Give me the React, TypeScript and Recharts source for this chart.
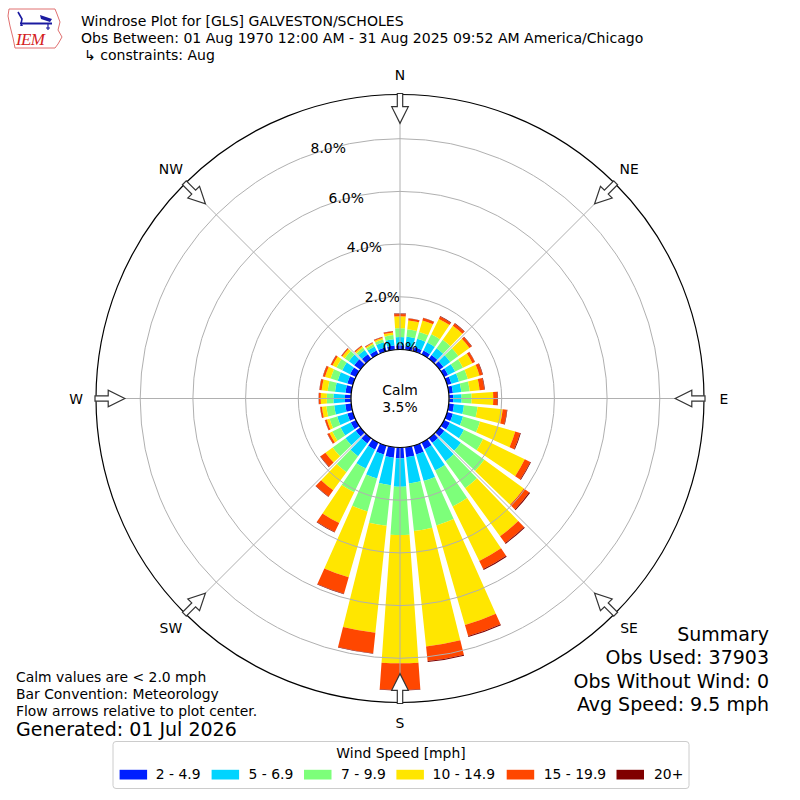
import React from 'react';
import { RadialBarChart, RadialBar, PolarAngleAxis, PolarRadiusAxis, PolarGrid } from 'recharts';

// ---------- data ----------
const directions = ['0', '10', '20', '30', '40', '50', '60', '70', '80', '90', '100', '110', '120', '130', '140', '150', '160', '170',
  '180', '190', '200', '210', '220', '230', '240', '250', '260', '270', '280', '290', '300', '310', '320', '330', '340', '350'];

const speed2to5 = [0.16, 0.14, 0.16, 0.17, 0.18, 0.18, 0.17, 0.17, 0.16, 0.16, 0.20, 0.23, 0.25, 0.22, 0.22, 0.28, 0.35, 0.38,
  0.41, 0.40, 0.35, 0.30, 0.25, 0.22, 0.22, 0.22, 0.23, 0.23, 0.22, 0.22, 0.25, 0.29, 0.22, 0.17, 0.16, 0.16];
const speed5to7 = [0.31, 0.36, 0.34, 0.33, 0.32, 0.32, 0.30, 0.30, 0.32, 0.32, 0.38, 0.40, 0.59, 0.78, 0.86, 0.90, 1.05, 1.00,
  1.08, 1.05, 0.95, 0.80, 0.60, 0.48, 0.43, 0.40, 0.42, 0.44, 0.40, 0.38, 0.33, 0.25, 0.20, 0.17, 0.20, 0.24];
const speed7to10 = [0.34, 0.28, 0.27, 0.35, 0.40, 0.38, 0.33, 0.35, 0.32, 0.38, 0.52, 0.67, 0.81, 1.10, 1.27, 1.52, 1.75, 1.82,
  1.83, 1.55, 1.30, 1.00, 0.75, 0.60, 0.35, 0.30, 0.30, 0.25, 0.28, 0.28, 0.24, 0.19, 0.10, 0.09, 0.11, 0.16];
const speed10to15 = [0.45, 0.34, 0.45, 0.65, 0.65, 0.52, 0.40, 0.46, 0.38, 0.82, 0.96, 1.39, 1.76, 1.85, 2.25, 2.30, 3.93, 4.40,
  4.87, 4.08, 2.60, 1.30, 0.85, 0.34, 0.12, 0.11, 0.17, 0.23, 0.23, 0.22, 0.17, 0.12, 0.06, 0.05, 0.06, 0.10];
const speed15to20 = [0.09, 0.07, 0.10, 0.10, 0.11, 0.10, 0.10, 0.12, 0.18, 0.16, 0.16, 0.19, 0.23, 0.25, 0.32, 0.34, 0.44, 0.56,
  1.01, 0.78, 0.65, 0.38, 0.29, 0.23, 0.08, 0.07, 0.06, 0.07, 0.08, 0.08, 0.07, 0.04, 0.04, 0.03, 0.04, 0.05];
const speed20plus = [0.02, 0.01, 0.01, 0.02, 0.02, 0.02, 0.01, 0.02, 0.02, 0.02, 0.02, 0.03, 0.03, 0.04, 0.04, 0.04, 0.04, 0.04,
  0.02, 0.02, 0.02, 0.02, 0.02, 0.02, 0.01, 0.01, 0.01, 0.01, 0.01, 0.01, 0.01, 0.01, 0.01, 0.01, 0.01, 0.01];

const binKeys = ['s1', 's2', 's3', 's4', 's5', 's6'];
const binLabels = ['2 - 4.9', '5 - 6.9', '7 - 9.9', '10 - 14.9', '15 - 19.9', '20+'];
const binColors = ['#0020ff', '#00d4ff', '#7dff7a', '#ffe600', '#ff4700', '#800000'];

const radiusTicks = [0, 2, 4, 6, 8];
const radiusDomain = [0, 10];
const compassLabels = ['N', 'NE', 'E', 'SE', 'S', 'SW', 'W', 'NW'];
const compassAngles = [0, 45, 90, 135, 180, 225, 270, 315];
const calmPercent = '3.5%';

const titleLines = [
  'Windrose Plot for [GLS] GALVESTON/SCHOLES',
  'Obs Between: 01 Aug 1970 12:00 AM - 31 Aug 2025 09:52 AM America/Chicago',
  '\u21b3 constraints: Aug',
];
const noteLines = ['Calm values are < 2.0 mph', 'Bar Convention: Meteorology', 'Flow arrows relative to plot center.'];
const generatedText = 'Generated: 01 Jul 2026';
const summaryLines = ['Summary', 'Obs Used: 37903', 'Obs Without Wind: 0', 'Avg Speed: 9.5 mph'];
const legendTitle = 'Wind Speed [mph]';

const rows = directions.map((dir, i) => ({
  dir,
  s1: speed2to5[i],
  s2: speed5to7[i],
  s3: speed7to10[i],
  s4: speed10to15[i],
  s5: speed15to20[i],
  s6: speed20plus[i],
}));

// ---------- layout ----------
const CX = 400;
const CY = 398.5;
const R0 = 49; // 0 % ring (calm circle edge)
const PX_PER_PCT = 26.35;
const R_SCALE = R0 + PX_PER_PCT * 10; // radius where 10 % would sit
const R_FRAME = 304; // black frame circle
const FONT = '"DejaVu Sans", Verdana, sans-serif';

function PctTick(props: any) {
  const { y, payload } = props;
  const r = CY - y;
  const tx = CX + 0.5 - 0.343 * (r - R0);
  const ty = CY - 46.8 - 0.943 * (r - R0);
  return (
    <text x={tx} y={ty} textAnchor="middle" fontSize={13.9} fontFamily={FONT} fill="#000">
      {`${Number(payload.value).toFixed(1)}%`}
    </text>
  );
}

function Arrow({ angle }: { angle: number }) {
  const pts = [
    [CX - 2.7, CY - 305],
    [CX + 2.7, CY - 305],
    [CX + 2.7, CY - 291.8],
    [CX + 8.3, CY - 291.8],
    [CX, CY - 275.2],
    [CX - 8.3, CY - 291.8],
    [CX - 2.7, CY - 291.8],
  ]
    .map((p) => p.join(','))
    .join(' ');
  return (
    <polygon points={pts} fill="#fff" stroke="#333" strokeWidth={1.2} transform={`rotate(${angle} ${CX} ${CY})`} />
  );
}

const legendPatchX = [119.6, 211.6, 304, 396.4, 506.7, 616.5];
const legendTextX = [155.8, 248.6, 341, 432.6, 543.7, 654];

function Overlay() {
  return (
    <svg width={800} height={800} style={{ position: 'absolute', left: 0, top: 0, pointerEvents: 'none' }}>
      {/* logo */}
      <g>
        <path
          d="M9,9 L55,9 L57,14 L60,22 L58,30 L62,37 L58,44 L55,48 L15,48 L13,38 L10,26 L8,16 Z"
          fill="#fff"
          stroke="#e07070"
          strokeWidth={1}
        />
        <line x1={20} y1={23.5} x2={52} y2={23.5} stroke="#1a1aa0" strokeWidth={2} />
        <path d="M18,12 L22,19 L21,24" fill="none" stroke="#1a1aa0" strokeWidth={1.6} />
        <path d="M40,15 L52,19 L50,22 L41,19 Z" fill="#1a1aa0" />
        <path d="M48,24 L48,30 M46,28 L50,28" stroke="#1a1aa0" strokeWidth={1.2} />
        <path d="M20,26 L23,26 L21.5,23 Z" fill="#1a1aa0" />
        <text x={16} y={45} fontFamily="'Liberation Serif', serif" fontStyle="italic" fontSize={17} fill="#d42020" textLength={29}>
          IEM
        </text>
      </g>
      {/* title */}
      {titleLines.map((t, i) => (
        <text key={t} x={i === 2 ? 84 : 81} y={25.5 + i * 17} fontFamily={FONT} fontSize={14.05} fill="#000">
          {t}
        </text>
      ))}
      {/* compass spokes */}
      {compassAngles.map((a) => {
        const rad = (a * Math.PI) / 180;
        return (
          <line
            key={`sp${a}`}
            x1={CX + R0 * Math.sin(rad)}
            y1={CY - R0 * Math.cos(rad)}
            x2={CX + R_FRAME * Math.sin(rad)}
            y2={CY - R_FRAME * Math.cos(rad)}
            stroke="#b0b0b0"
            strokeWidth={1}
          />
        );
      })}
      {/* outer circle */}
      <circle cx={CX} cy={CY} r={R_FRAME} fill="none" stroke="#000" strokeWidth={1.2} />
      {/* calm circle */}
      <circle cx={CX} cy={CY} r={R0} fill="#fff" stroke="#000" strokeWidth={1.2} />
      <text x={CX} y={395} textAnchor="middle" fontFamily={FONT} fontSize={13.9} fill="#000">
        Calm
      </text>
      <text x={CX} y={411.7} textAnchor="middle" fontFamily={FONT} fontSize={13.9} fill="#000">
        {calmPercent}
      </text>
      {/* arrows and compass labels */}
      {compassAngles.map((a, i) => {
        const rad = (a * Math.PI) / 180;
        const lx = CX + 324 * Math.sin(rad);
        const ly = CY - 324 * Math.cos(rad) + 5;
        return (
          <g key={a}>
            <Arrow angle={a} />
            <text x={lx} y={ly} textAnchor="middle" fontFamily={FONT} fontSize={13.9} fill="#000">
              {compassLabels[i]}
            </text>
          </g>
        );
      })}
      {/* notes */}
      {noteLines.map((t, i) => (
        <text key={t} x={16} y={681.5 + i * 17} fontFamily={FONT} fontSize={13.9} fill="#000">
          {t}
        </text>
      ))}
      <text x={16} y={736} fontFamily={FONT} fontSize={19} fill="#000">
        {generatedText}
      </text>
      {/* summary */}
      {summaryLines.map((t, i) => (
        <text key={t} x={769} y={641 + i * 23.3} textAnchor="end" fontFamily={FONT} fontSize={19} fill="#000">
          {t}
        </text>
      ))}
      {/* legend */}
      <rect x={113} y={741.5} width={576} height={47} rx={3} fill="#fff" fillOpacity={0.8} stroke="#cccccc" strokeWidth={1} />
      <text x={401} y={758} textAnchor="middle" fontFamily={FONT} fontSize={13.9} fill="#000">
        {legendTitle}
      </text>
      {binLabels.map((lab, i) => (
        <g key={lab}>
          <rect x={legendPatchX[i]} y={769.8} width={27.5} height={9.7} fill={binColors[i]} />
          <text x={legendTextX[i]} y={779.3} fontFamily={FONT} fontSize={13.9} fill="#000">
            {lab}
          </text>
        </g>
      ))}
    </svg>
  );
}

const chartProps = {
  width: 800,
  height: 800,
  cx: CX,
  cy: CY,
  innerRadius: R0,
  outerRadius: R_SCALE,
  startAngle: 85,
  endAngle: -275,
  data: rows,
  layout: 'centric' as const,
  barSize: 8,
  margin: { top: 0, right: 0, bottom: 0, left: 0 },
};

export default function App() {
  return (
    <div style={{ position: 'absolute', left: 0, top: 0, width: 800, height: 800, background: '#fff', fontFamily: FONT }}>
      {/* bars */}
      <div style={{ position: 'absolute', left: 0, top: 0 }}>
        <RadialBarChart {...chartProps}>
          <PolarAngleAxis type="category" dataKey="dir" tick={false} axisLine={false} tickLine={false} />
          <PolarRadiusAxis type="number" domain={radiusDomain} ticks={radiusTicks} axisLine={false} tickLine={false} tick={false} />
          {binKeys.map((k, i) => (
            <RadialBar key={k} dataKey={k} stackId="wind" fill={binColors[i]} isAnimationActive={false} />
          ))}
        </RadialBarChart>
      </div>
      {/* grid rings and radius labels, drawn above the bars (same scales, invisible series) */}
      <div style={{ position: 'absolute', left: 0, top: 0, pointerEvents: 'none' }}>
        <RadialBarChart {...chartProps}>
          <PolarAngleAxis type="category" dataKey="dir" tick={false} axisLine={false} tickLine={false} />
          {binKeys.map((k) => (
            <RadialBar key={k} dataKey={k} stackId="wind" fill="none" fillOpacity={0} isAnimationActive={false} />
          ))}
          <PolarGrid gridType="circle" radialLines={false} stroke="#b0b0b0" strokeWidth={1} />
          <PolarRadiusAxis
            type="number"
            domain={radiusDomain}
            ticks={radiusTicks}
            angle={90}
            axisLine={false}
            tickLine={false}
            tick={<PctTick />}
          />
        </RadialBarChart>
      </div>
      <Overlay />
    </div>
  );
}
